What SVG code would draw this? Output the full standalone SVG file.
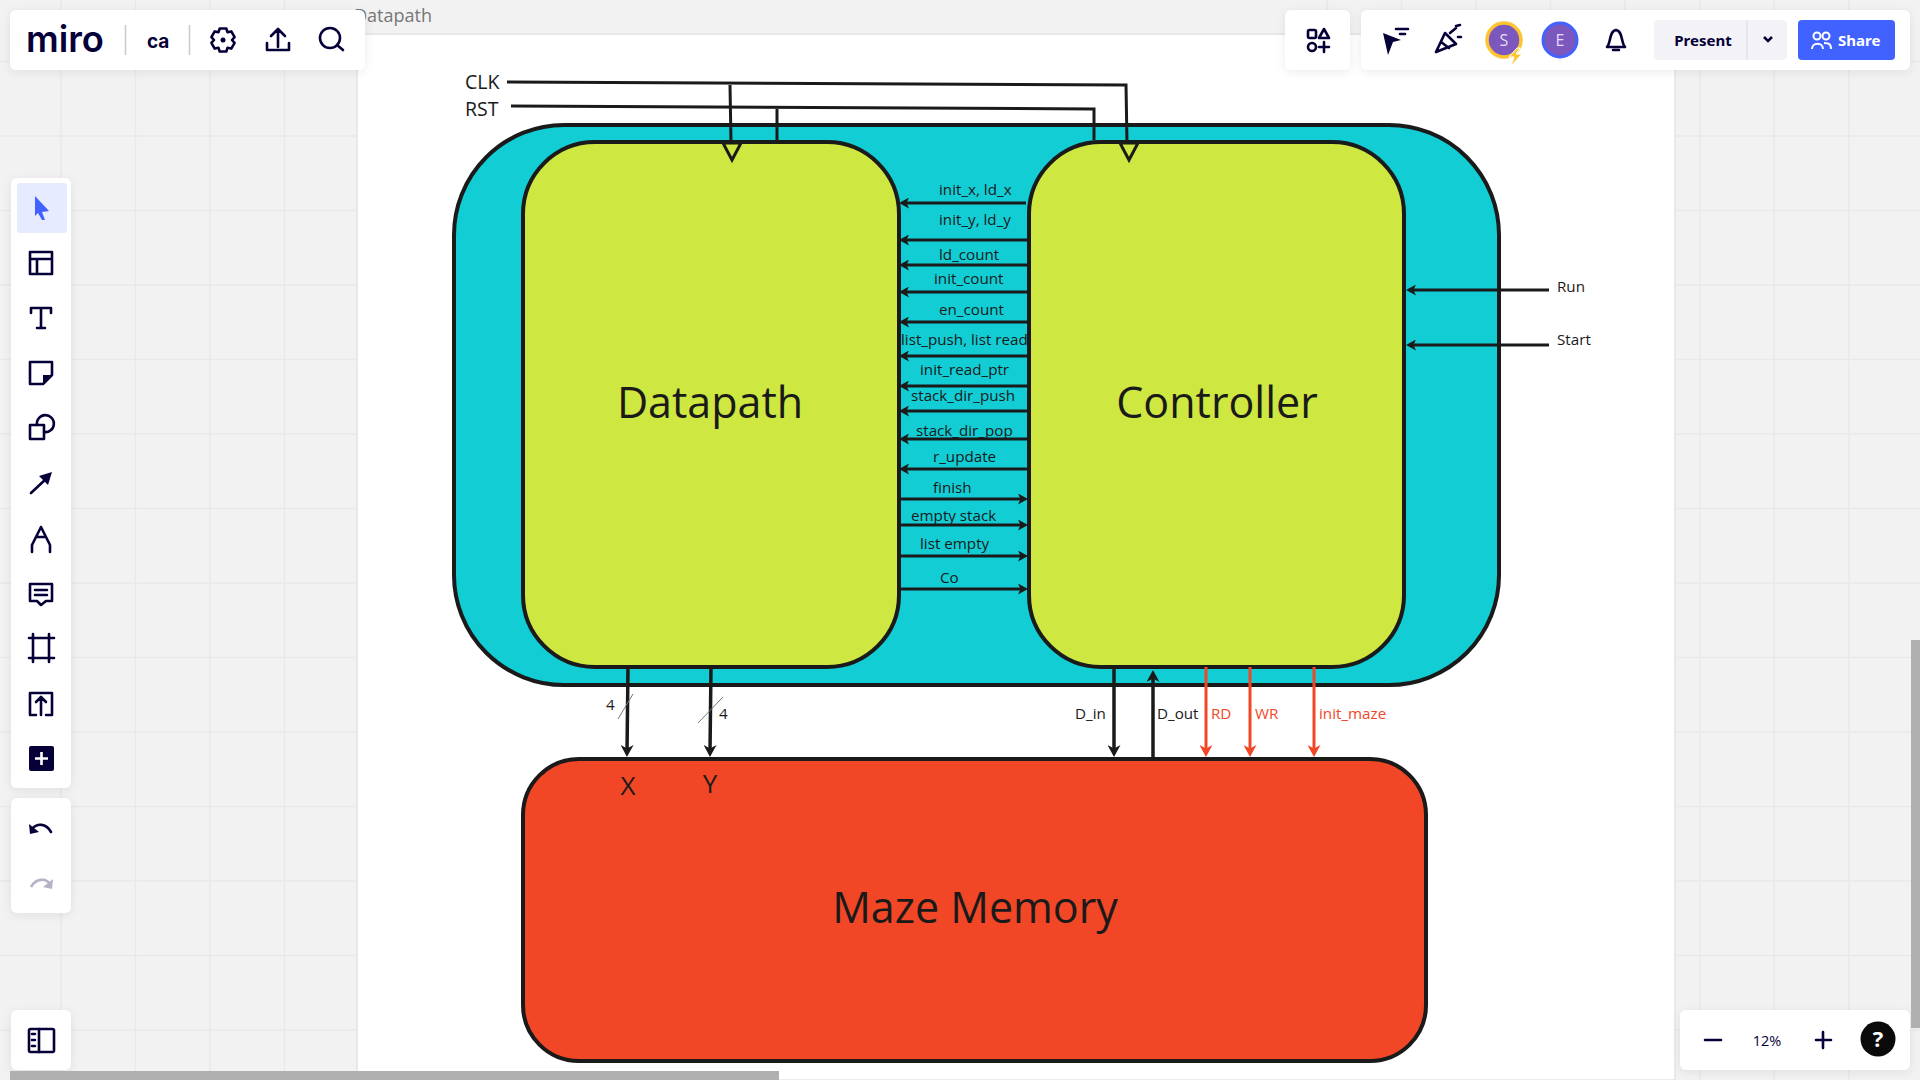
<svg xmlns="http://www.w3.org/2000/svg" width="1920" height="1080" viewBox="0 0 1920 1080">
<style>
text{font-family:"Open Sans","Noto Sans","Liberation Sans",sans-serif;fill:#1a1a1a}
.n{stroke:#1a1a1a;stroke-width:4}
.big{font-size:43px;text-anchor:middle}
.lb{font-size:15.2px}
.red{fill:#f24726}
.w{stroke:#1a1a1a;stroke-width:3;fill:none}
.b{stroke-width:3.5}
.r{stroke:#f24726;stroke-width:3;fill:none}
.grid{stroke:#e9e9e9;stroke-width:1.5;fill:none}
.panel{fill:#fff;filter:url(#sh)}
.ic{fill:none;stroke:#050038;stroke-width:2.6;stroke-linejoin:round;stroke-linecap:round}
.nv{fill:#050038}
.ui{font-family:"Noto Sans","Open Sans",sans-serif;font-weight:700;font-size:15px}
</style>
<defs>
<filter id="sh" x="-20%" y="-20%" width="140%" height="150%"><feDropShadow dx="0" dy="2" stdDeviation="5" flood-color="#000" flood-opacity="0.08"/></filter>
<marker id="a" viewBox="0 0 12 13" markerUnits="userSpaceOnUse" markerWidth="12" markerHeight="13" refX="7" refY="6.5" orient="auto"><path d="M12,6.500 L0,0 L3.500,6.500 L0,13 Z" fill="#1a1a1a"/></marker>
<marker id="s" viewBox="0 0 10 11" markerUnits="userSpaceOnUse" markerWidth="10" markerHeight="11" refX="5" refY="5.500" orient="auto"><path d="M10,5.500 L0,0 L2.500,5.500 L0,11 Z" fill="#1a1a1a"/></marker>
<marker id="rd" viewBox="0 0 12 13" markerUnits="userSpaceOnUse" markerWidth="12" markerHeight="13" refX="7" refY="6.5" orient="auto"><path d="M12,6.500 L0,0 L3.500,6.500 L0,13 Z" fill="#f24726"/></marker>
</defs>
<rect width="1920" height="1080" fill="#f2f2f2"/>
<g id="grid">
<path class="grid" d="M61,0V1080M135.5,0V1080M210,0V1080M284.5,0V1080M1327,0V34M1401.500,0V34M1476,0V34M1550.500,0V34M1625,0V34M1700,0V1080M1774,0V1080M1849,0V1080M0,61.500H357M1675,61.500H1920M0,136H357M1675,136H1920M0,210.500H357M1675,210.500H1920M0,285H357M1675,285H1920M0,359.500H357M1675,359.500H1920M0,434H357M1675,434H1920M0,508.500H357M1675,508.500H1920M0,583H357M1675,583H1920M0,657.500H357M1675,657.500H1920M0,732H357M1675,732H1920M0,806.500H357M1675,806.500H1920M0,881H357M1675,881H1920M0,955.500H357M1675,955.500H1920M0,1030H357M1675,1030H1920"/>
</g>
<g id="canvas">
<rect x="357" y="34" width="1318" height="1046" fill="#fff" stroke="#e4e4e4" stroke-width="1.500"/>
<text x="354" y="22" font-size="18" style="fill:#777">Datapath</text>
</g>
<g id="outer"><rect class="n" x="454" y="125" width="1045" height="560" rx="110" ry="110" fill="#12cdd4"/></g>
<g id="datapath"><rect class="n" x="523" y="142" width="376" height="525" rx="72" ry="72" fill="#cee741"/><text class="big" x="710" y="418">Datapath</text></g>
<g id="controller"><rect class="n" x="1029" y="142" width="375" height="525" rx="72" ry="72" fill="#cee741"/><text class="big" x="1217" y="418">Controller</text></g>
<g id="maze-memory"><rect class="n" x="523" y="759" width="903" height="302" rx="56" ry="56" fill="#f24726"/><text class="big" x="975" y="923">Maze Memory</text><text x="628" y="795" font-size="26" text-anchor="middle">X</text><text x="710" y="793" font-size="26" text-anchor="middle">Y</text></g>
<g id="connectors">
<path class="w" d="M507,82 L1126,85 L1127,143"/><path class="w" d="M730,85 L731,143"/>
<path class="w" d="M511,106 L1094,109 L1094,140M777,108 V141"/>
<polygon points="723,143 741,143 732,160" fill="#cee741" stroke="#1a1a1a" stroke-width="3"/>
<polygon points="1120,143 1138,143 1129,160" fill="#cee741" stroke="#1a1a1a" stroke-width="3"/>
<g class="w">
<path d="M1026,203H904" marker-end="url(#s)"/>
<path d="M1028,240H904" marker-end="url(#s)"/>
<path d="M1028,265H904" marker-end="url(#s)"/>
<path d="M1028,292H904" marker-end="url(#s)"/>
<path d="M1028,322H904" marker-end="url(#s)"/>
<path d="M1028,356H904" marker-end="url(#s)"/>
<path d="M1028,386H904" marker-end="url(#s)"/>
<path d="M1028,411H904" marker-end="url(#s)"/>
<path d="M1028,439H904" marker-end="url(#s)"/>
<path d="M1028,469H904" marker-end="url(#s)"/>
<path d="M899,499H1023" marker-end="url(#s)"/>
<path d="M899,525H1023" marker-end="url(#s)"/>
<path d="M899,556H1023" marker-end="url(#s)"/>
<path d="M899,589H1023" marker-end="url(#s)"/>
<path d="M1549,290H1411" marker-end="url(#s)"/>
<path d="M1549,345H1411" marker-end="url(#s)"/>
</g>
<path class="w b" d="M628,667 L627,752" marker-end="url(#a)"/>
<path class="w b" d="M711,667 L710,752" marker-end="url(#a)"/>
<path class="w b" d="M1114,667 L1114,752" marker-end="url(#a)"/>
<path class="w b" d="M1153,759 L1153,675" marker-end="url(#a)"/>
<path class="r" d="M1206,667 V752" marker-end="url(#rd)"/>
<path class="r" d="M1250,667 V752" marker-end="url(#rd)"/>
<path class="r" d="M1314,667 V752" marker-end="url(#rd)"/>
<path d="M618,719 L633,694M698,723 L723,697" stroke="#777" stroke-width="1" fill="none"/>
</g>
<g id="labels">
<text x="465" y="89" font-size="19.500">CLK</text><text x="465" y="116" font-size="19.500">RST</text>
<text class="lb" x="939" y="195">init_x, ld_x</text>
<text class="lb" x="939" y="225">init_y, ld_y</text>
<text class="lb" x="939" y="260">ld_count</text>
<text class="lb" x="934" y="284">init_count</text>
<text class="lb" x="939" y="315">en_count</text>
<text class="lb" x="901" y="345">list_push, list read</text>
<text class="lb" x="920" y="375">init_read_ptr</text>
<text class="lb" x="911" y="401">stack_dir_push</text>
<text class="lb" x="916" y="436">stack_dir_pop</text>
<text class="lb" x="933" y="462">r_update</text>
<text class="lb" x="933" y="493">finish</text>
<text class="lb" x="911" y="521">empty stack</text>
<text class="lb" x="920" y="549">list empty</text>
<text class="lb" x="940" y="583">Co</text>
<text class="lb" x="1557" y="292">Run</text><text class="lb" x="1557" y="345">Start</text>
<text class="lb" x="606" y="710">4</text><text class="lb" x="719" y="719">4</text>
<text class="lb" x="1075" y="719">D_in</text><text class="lb" x="1157" y="719">D_out</text>
<text class="lb red" x="1211" y="719">RD</text><text class="lb red" x="1255" y="719">WR</text><text class="lb red" x="1319" y="719">init_maze</text>
</g>
<g id="ui-top-left">
<rect class="panel" x="10" y="10" width="355" height="60" rx="6"/>
<text x="26" y="52" font-size="37" font-weight="600" textLength="78" lengthAdjust="spacingAndGlyphs" style="font-family:Inter,sans-serif;fill:#050038">miro</text>
<path d="M125.500,25V55M189.500,25V55" stroke="#c9c9d6" stroke-width="1.500"/>
<text x="147" y="48" style="font-family:Inter,sans-serif;fill:#050038;font-size:19px;font-weight:700">ca</text>
<path class="ic" transform="translate(223,40)" d="M-3.300,-11.500 L3.300,-11.500 L4.500,-7.800 L8.300,-8.600 L11.600,-2.900 L9,0 L11.600,2.900 L8.300,8.600 L4.500,7.800 L3.300,11.500 L-3.300,11.500 L-4.500,7.800 L-8.300,8.600 L-11.600,2.900 L-9,0 L-11.600,-2.900 L-8.300,-8.600 L-4.500,-7.800 Z"/><circle cx="223" cy="40" r="2.500" class="nv"/>
<path class="ic" d="M278,47V30M271,36 L278,29 L285,36M267,43V50H289V43"/>
<circle class="ic" cx="330" cy="38" r="10"/><path class="ic" d="M337,45 L343,50"/>
</g>
<g id="ui-top-right">
<rect class="panel" x="1285" y="10" width="65" height="60" rx="6"/>
<rect class="panel" x="1361" y="10" width="549" height="60" rx="6"/>
<rect class="ic" x="1308" y="30" width="8" height="8" rx="1.500"/><path class="ic" d="M1324,29 L1329,38 H1319 Z"/><circle class="ic" cx="1312" cy="47" r="4"/><path class="ic" d="M1319,47H1329M1324,42V52"/>
<path d="M1383,34 L1401,41 L1393,43 L1388,56 Z" class="nv" transform="translate(0,-1)"/><path class="ic" d="M1396,29H1408M1400,34H1405"/>
<path class="ic" d="M1436,52 L1445,33 L1456,44 Z M1441,42 L1449,48"/><path class="ic" d="M1450,33 L1456,28M1458,37 H1461M1456,26 L1460,25"/>
<circle cx="1504" cy="40" r="17" fill="#7b57be" stroke="#fdc52f" stroke-width="3.500"/><text x="1504" y="46" font-size="16" text-anchor="middle" style="fill:#e6dcf5">S</text>
<polygon points="1517,48 1509,57 1514,57 1511,66 1522,54 1516,54 1520,48" fill="#fdc52f" stroke="#fff" stroke-width="1"/>
<circle cx="1560" cy="40" r="17" fill="#7b57be" stroke="#4262ff" stroke-width="3"/><text x="1560" y="46" font-size="16" text-anchor="middle" style="fill:#e6dcf5">E</text>
<path class="ic" d="M1607,47 C1611,43 1609,31 1616,30 C1623,31 1621,43 1625,47 Z M1613,50 H1619"/>
<rect x="1654" y="20" width="133" height="40" rx="4" fill="#f3f3f7"/><path d="M1747,20V60" stroke="#e2e2e8" stroke-width="1.500"/>
<text class="ui" x="1703" y="46" text-anchor="middle" style="fill:#050038">Present</text>
<path d="M1764,37 L1768,41 L1772,37" fill="none" stroke="#050038" stroke-width="2.500"/>
<rect x="1798" y="20" width="97" height="40" rx="4" fill="#4262ff"/>
<path d="M1812,49 C1812,42 1823,42 1823,49M1824,43 C1830,43 1831,45 1831,49" fill="none" stroke="#fff" stroke-width="2"/><circle cx="1817" cy="36" r="3.500" fill="none" stroke="#fff" stroke-width="2"/><circle cx="1826" cy="36" r="3.500" fill="none" stroke="#fff" stroke-width="2"/>
<text class="ui" x="1838" y="46" style="fill:#fff">Share</text>
</g>
<g id="ui-left">
<rect class="panel" x="11" y="178" width="60" height="610" rx="6"/>
<rect x="17" y="183" width="50" height="50" rx="3" fill="#e6ebff"/>
<path d="M35,196 L49,211 L42,212 L45,220 L42,220 L38,213 L35,216 Z" fill="#4262ff"/>
<path class="ic" d="M30,252H52V274H30ZM30,259H52M37,259V274"/>
<path class="ic" d="M31,313V308H51V313M41,308V328M37,328H45"/>
<path class="ic" d="M30,362H52V375L43,384H30Z"/><path class="nv" d="M43,384V375H52Z"/>
<rect class="ic" x="30" y="425" width="14" height="14"/><path class="ic" d="M37,425 A8.500,8.500 0 1 1 44,432"/>
<path class="ic" d="M31,493 L47,478"/><path class="nv" d="M52,472 L48,485 L39,476 Z"/>
<path class="ic" d="M32,552V545L36,537L41,527L46,537L50,545V552M36,537H46"/>
<path class="ic" d="M30,584H52V601H46L41,605L37,601H30ZM35,590H47M35,595H47"/>
<path class="ic" d="M29,638H54M29,658H54M33,634V662M49,634V662"/>
<path class="ic" d="M36,715H30V693H52V715H46M41,715V697M36,702L41,697L46,702"/>
<rect x="29" y="746" width="25" height="25" rx="2" class="nv"/><path d="M41.500,752V765M35,758.500H48" stroke="#fff" stroke-width="2.600"/>
<rect class="panel" x="11" y="798" width="60" height="115" rx="6"/>
<path class="ic" d="M32,829 C37,823 46,823 51,832"/><path class="nv" d="M29,824 L30,834 L39,832 Z"/>
<path d="M31,887 C36,878 46,878 50,884" fill="none" stroke="#b4b2c4" stroke-width="2.600"/><path d="M53,879 L52,889 L43,887 Z" fill="#b4b2c4"/>
<rect class="panel" x="11" y="1010" width="60" height="60" rx="6"/>
<rect class="ic" x="29" y="1029" width="25" height="23" rx="1.500"/><path class="ic" d="M39,1029V1052M32,1034H35M32,1040H35M32,1046H35"/>
</g>
<g id="ui-bottom-right">
<rect class="panel" x="1680" y="1010" width="230" height="60" rx="6"/>
<path class="ic" d="M1705,1040H1721M1816,1040H1831M1823,1032V1048"/>
<text x="1767" y="1046" font-size="14.500" text-anchor="middle" style="fill:#050038">12%</text>
<circle cx="1878" cy="1039" r="17.500" fill="#0a0a0a"/><text x="1878" y="1047" font-size="22" font-weight="700" text-anchor="middle" style="fill:#fff">?</text>
</g>
<g id="scrollbars">
<rect x="10" y="1071" width="769" height="9" fill="#b0b0b0"/>
<rect x="1911" y="640" width="9" height="388" fill="#b0b0b0"/>
</g>
</svg>
